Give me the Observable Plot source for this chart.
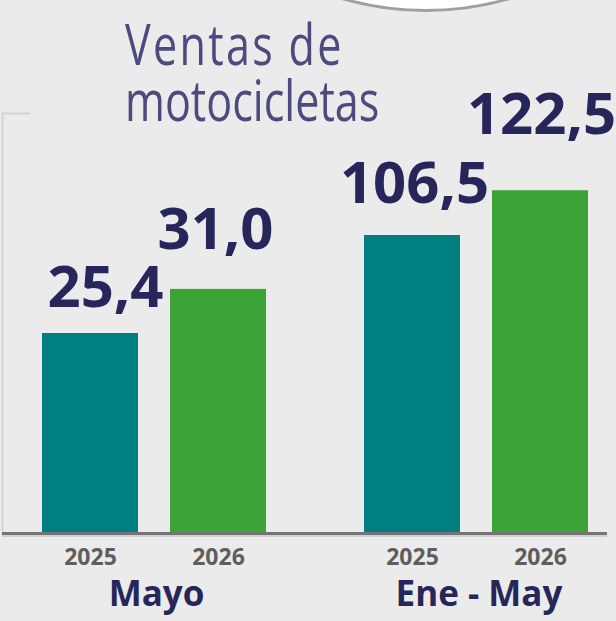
<!DOCTYPE html>
<html><head><meta charset="utf-8">
<script src="https://cdn.jsdelivr.net/npm/d3@7"></script>
<script src="https://cdn.jsdelivr.net/npm/@observablehq/plot@0.6"></script>
<style>
html,body{margin:0;padding:0;background:#ebebeb;}
#wrap{position:relative;width:616px;height:621px;overflow:hidden;background:#ebebeb;font-family:"Open Sans",sans-serif;}
#circle{position:absolute;left:124px;top:-592px;width:598px;height:598px;border-radius:50%;background:#fff;border:3px solid #a0a0a0;box-sizing:content-box;}
.tl{position:absolute;left:125px;font-size:56px;line-height:44px;height:44px;color:#4d4b7d;white-space:nowrap;transform:scaleX(0.77);transform-origin:0 0;}
#t1{top:21px;letter-spacing:3px;}
#t2{top:77px;}
.panel{position:absolute;top:0;}
</style>
</head><body>
<div id="wrap">
  <div id="circle"></div>
  <div id="t1" class="tl">Ventas de</div>
  <div id="t2" class="tl">motocicletas</div>
  <div id="a" class="panel" style="left:0;width:308px"></div>
  <div id="b" class="panel" style="left:300px;width:316px"></div>
</div>
<script>
const years = ["2025", "2026"];
const groups = ["Mayo", "Ene - May"];
const mayoValues = [25.4, 31.0];
const eneMayValues = [106.5, 122.5];
const barColors = ["#007f80", "#3ca337"];

const navy = "#27265b";
const fmt = (v) => v.toFixed(1).replace(".", ",");

function panel({group, values, yMax, width, marginLeft, marginRight, xRange, leftAxis, labelOffsets, groupDx}) {
  const data = years.map((year, i) => ({year, value: values[i], label: fmt(values[i])}));
  const labelMarks = data.map((d, i) =>
    Plot.text([d], {x: "year", y: "value", text: "label", lineAnchor: "bottom",
      dx: labelOffsets[i][0], dy: -labelOffsets[i][1],
      fontSize: 58, fontWeight: "bold", fill: navy}));
  const marks = [];
  if (leftAxis) {
    marks.push(Plot.frame({anchor: "left", stroke: "#d3d3d3", strokeWidth: 2}));
    marks.push(Plot.ruleY([yMax], {stroke: "#d3d3d3", strokeWidth: 2, strokeDasharray: "28 3000"}));
  }
  marks.push(
    Plot.barY(data, {x: "year", y: "value", fill: "year"}),
    Plot.ruleY([0], {stroke: "#d0d0d0", strokeWidth: 3, dy: 2}),
    Plot.ruleY([0], {stroke: "#747474", strokeWidth: 3}),
    Plot.axisX({tickSize: 0, tickPadding: 15, fontSize: 23, fontWeight: "bold", label: null, color: "#5e5e5e"}),
    ...labelMarks,
    Plot.text([group], {frameAnchor: "bottom", lineAnchor: "bottom", dy: 72, dx: groupDx,
      fontSize: 35, fontWeight: "bold", fill: navy})
  );
  return Plot.plot({
    width, height: 621,
    marginTop: 113, marginBottom: 88, marginLeft, marginRight,
    style: {background: "transparent", overflow: "visible", fontFamily: "Open Sans", color: "#5e5e5e"},
    x: {domain: years, range: xRange, padding: 0.25, axis: null},
    y: {domain: [0, yMax], axis: null},
    color: {domain: years, range: barColors},
    marks
  });
}

document.getElementById("a").append(panel({
  group: groups[0], values: mayoValues, yMax: 53.34,
  width: 308, marginLeft: 2, marginRight: 0, xRange: [10, 298], leftAxis: true,
  labelOffsets: [[15, 27], [-3, 40]], groupDx: 1
}));
document.getElementById("b").append(panel({
  group: groups[1], values: eneMayValues, yMax: 150.1,
  width: 316, marginLeft: 0, marginRight: 9, xRange: [32, 320], leftAxis: false,
  labelOffsets: [[2, 32], [1, 57]], groupDx: 25
}));
</script>
</body></html>
